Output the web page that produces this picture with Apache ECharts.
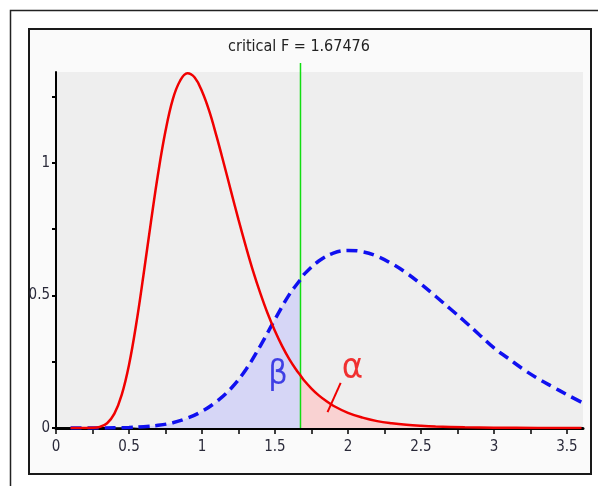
<!DOCTYPE html>
<html>
<head>
<meta charset="utf-8">
<script src="https://cdn.jsdelivr.net/npm/echarts@6/dist/echarts.min.js"></script>
<style>html,body{margin:0;padding:0;background:#fff}#c{width:598px;height:486px}</style>
</head>
<body>
<div id="c"></div>
<script>
const criticalF = 1.67476;
const titleText = 'critical F = 1.67476';
const redX = [0.1,0.2,0.25,0.3,0.35,0.4,0.45,0.5,0.55,0.6,0.65,0.7,0.75,0.8,0.85,0.9,0.95,1.0,1.05,1.1,1.15,1.2,1.25,1.3,1.35,1.4,1.45,1.5,1.55,1.6,1.65,1.67476,1.7,1.75,1.8,1.85,1.9,2.0,2.1,2.2,2.3,2.4,2.5,2.6,2.8,3.0,3.3,3.6];
const redY = [0,0.0001,0.0007,0.0044,0.018,0.054,0.125,0.238,0.394,0.58,0.776,0.962,1.12,1.24,1.31,1.338,1.322,1.27,1.195,1.10,0.997,0.891,0.786,0.686,0.592,0.508,0.432,0.366,0.308,0.258,0.216,0.198,0.179,0.149,0.123,0.102,0.084,0.057,0.039,0.026,0.0178,0.012,0.0082,0.0056,0.0026,0.0012,0.0004,0.0001];
const blueX = [0.1,0.3,0.5,0.6,0.7,0.8,0.9,1.0,1.1,1.2,1.3,1.4,1.5,1.6,1.67476,1.7,1.8,1.9,2.0,2.1,2.2,2.3,2.4,2.5,2.6,2.7,2.8,2.9,3.0,3.1,3.2,3.3,3.4,3.5,3.6];
const blueY = [0,0.0003,0.002,0.005,0.01,0.02,0.037,0.063,0.10,0.15,0.22,0.31,0.41,0.505,0.56,0.58,0.63,0.66,0.67,0.665,0.648,0.62,0.585,0.543,0.497,0.45,0.402,0.352,0.302,0.262,0.222,0.187,0.156,0.126,0.097];
const xTicks = [0,0.25,0.5,0.75,1,1.25,1.5,1.75,2,2.25,2.5,2.75,3,3.25,3.5];
const xLabels = [0,0.5,1,1.5,2,2.5,3,3.5];
const yTicks = [0,0.25,0.5,0.75,1,1.25];
const yLabels = [0,0.5,1];
const betaLabel = {text:'β', x:1.52, y:0.2};
const alphaLabel = {text:'α', x:2.03, y:0.225};
const alphaPointer = [[1.86,0.06],[1.95,0.17]];

const zip = (xs, ys) => xs.map((x,i)=>[x, ys[i]]);
const red = zip(redX, redY);
const blue = zip(blueX, blueY);
const alphaArea = red.filter(p => p[0] >= criticalF);
const betaArea = blue.filter(p => p[0] <= criticalF);

const FONT = "'DejaVu Sans Condensed','Liberation Sans Narrow',sans-serif";
const chart = echarts.init(document.getElementById('c'), null, {renderer:'canvas'});
chart.setOption({
  animation:false,
  backgroundColor:'#ffffff',
  title:{text:titleText, left:'center', top:34, itemGap:0,
    textStyle:{fontFamily:FONT, fontSize:16, fontWeight:'normal', color:'#222'}},
  graphic:[
    {type:'polyline', z:-10, shape:{points:[[10.5,486],[10.5,10.5],[598,10.5]]}, style:{stroke:'#222', lineWidth:1.5, fill:null}},
    {type:'rect', z:-10, shape:{x:29,y:29,width:562,height:445}, style:{stroke:'#1a1a1a', lineWidth:2, fill:'#fafafa'}}
  ],
  grid:[
    {left:56, right:15, top:72, bottom:58, show:true, backgroundColor:'#eeeeee', borderWidth:0},
    {left:56, right:15, top:63, bottom:58, show:false}
  ],
  xAxis:[
    {type:'value', gridIndex:0, min:0, max:3.61,
      axisLine:{show:true, onZero:false, lineStyle:{color:'#000', width:3}},
      axisTick:{show:true, length:6, inside:false, customValues:xTicks, lineStyle:{color:'#000', width:1.5}},
      axisLabel:{show:true, customValues:xLabels, margin:12, fontFamily:FONT, fontSize:15, color:'#2a2a3a',
        formatter:v=>String(v)},
      splitLine:{show:false}},
    {type:'value', gridIndex:1, min:0, max:3.61, show:false}
  ],
  yAxis:[
    {type:'value', gridIndex:0, min:0, max:1.343,
      axisLine:{show:true, onZero:false, lineStyle:{color:'#000', width:2}},
      axisTick:{show:true, length:4, inside:false, customValues:yTicks, lineStyle:{color:'#000', width:2}},
      axisLabel:{show:true, customValues:yLabels, margin:6, fontFamily:FONT, fontSize:15, color:'#2a2a3a',
        formatter:v=>String(v)},
      splitLine:{show:false}},
    {type:'value', gridIndex:1, min:0, max:1, show:false}
  ],
  series:[
    {type:'line', name:'beta', xAxisIndex:0, yAxisIndex:0, data:betaArea, smooth:0.4,
      showSymbol:false, lineStyle:{width:0}, areaStyle:{color:'#d6d6f6', opacity:1}, z:1},
    {type:'line', name:'alpha', xAxisIndex:0, yAxisIndex:0, data:alphaArea, smooth:0.4,
      showSymbol:false, lineStyle:{width:0}, areaStyle:{color:'#f9d2d2', opacity:1}, z:1},
    {type:'line', name:'critical', xAxisIndex:1, yAxisIndex:1, data:[[criticalF,0],[criticalF,1]],
      showSymbol:false, lineStyle:{color:'#11dd11', width:1.5}, z:2},
    {type:'line', name:'H1', xAxisIndex:0, yAxisIndex:0, data:blue, smooth:0.4,
      showSymbol:false, lineStyle:{color:'#1010f0', width:3.5, type:[11,6]}, z:3},
    {type:'line', name:'H0', xAxisIndex:0, yAxisIndex:0, data:red, smooth:0.4,
      showSymbol:false, lineStyle:{color:'#f00000', width:2.5}, z:4,
      markLine:{silent:true, symbol:['none','none'], label:{show:false},
        lineStyle:{color:'#f00000', width:2, type:'solid'},
        data:[[{coord:alphaPointer[0]},{coord:alphaPointer[1]}]]}},
    {type:'scatter', name:'labels', xAxisIndex:0, yAxisIndex:0, symbolSize:1, itemStyle:{color:'rgba(0,0,0,0)'}, z:5,
      data:[
        {value:[betaLabel.x, betaLabel.y], label:{show:true, position:'inside', formatter:betaLabel.text, color:'#1818e0', fontSize:34, fontFamily:FONT}},
        {value:[alphaLabel.x, alphaLabel.y], label:{show:true, position:'inside', formatter:alphaLabel.text, color:'#f00000', fontSize:36, fontFamily:FONT}}
      ]}
  ]
});
</script>
</body>
</html>
